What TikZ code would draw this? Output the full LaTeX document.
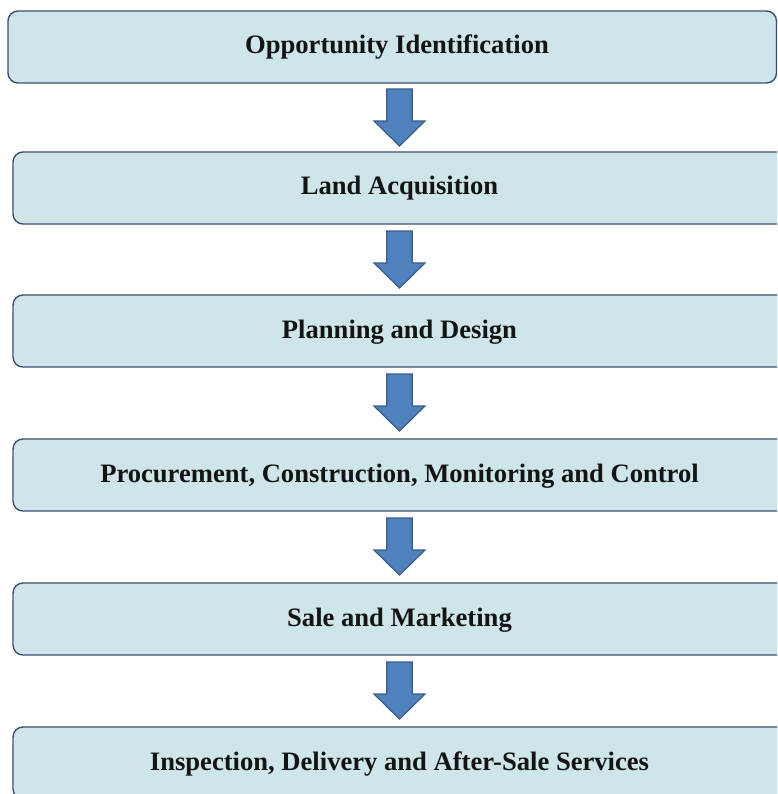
\documentclass[tikz,border=0pt]{standalone}
\usepackage{fontspec}
\setmainfont{Liberation Serif}
\definecolor{boxfill}{HTML}{CEE5EA}
\definecolor{boxline}{HTML}{3D5070}
\definecolor{arrfill}{HTML}{4F81BD}
\definecolor{arrline}{HTML}{385D8A}
\definecolor{txt}{HTML}{141414}
\tikzset{
  stagebox/.style={draw=boxline, fill=boxfill, line width=1.4pt, rounded corners=10pt},
  stagetext/.style={anchor=base, font=\fontsize{26.6}{30}\selectfont\bfseries, text=txt, inner sep=0pt},
  blockarrow/.style={draw=arrline, fill=arrfill, line width=1.2pt, line join=miter}
}
\begin{document}
\begin{tikzpicture}[x=1pt,y=-1pt]
\useasboundingbox (0,0) rectangle (777,794);
\clip (0,0) rectangle (777,794);
% boxes
\draw[stagebox] (8,11) rectangle (776.5,83);
\foreach \t in {152,295,439,583,727}{
  \draw[stagebox] (13,\t) rectangle (800,\t+72);
}
% texts
\node[stagetext] (b1) at (397,54) {Opportunity Identification};
\node[stagetext] (b2) at (399.5,195) {Land Acquisition};
\node[stagetext] (b3) at (399.5,338) {Planning and Design};
\node[stagetext] (b4) at (399.5,482) {Procurement, Construction, Monitoring and Control};
\node[stagetext] (b5) at (399.5,626) {Sale and Marketing};
\node[stagetext] (b6) at (399.5,770) {Inspection, Delivery and After-Sale Services};
% arrows
\foreach \t/\n in {89/1,231/2,374/3,518/4,662/5}{
  \draw[blockarrow] (386.7,\t) -- (412.3,\t) -- (412.3,\t+32) -- (425,\t+32)
    -- (399.5,\t+57) coordinate (tip\n) -- (374,\t+32) -- (386.7,\t+32) -- cycle;
}
\end{tikzpicture}
\end{document}
